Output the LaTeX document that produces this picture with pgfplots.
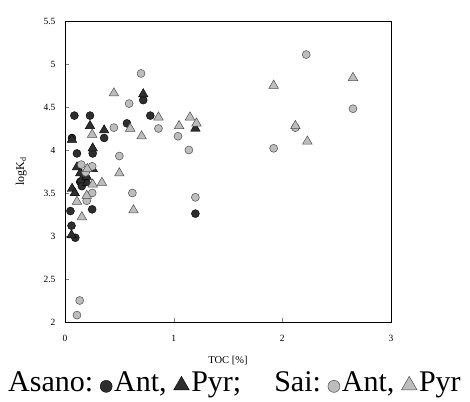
\documentclass[border=0pt]{standalone}
\usepackage{fontspec}
\setmainfont{Liberation Serif}
\usepackage{pgfplots}
\pgfplotsset{compat=1.18}
\definecolor{dk}{HTML}{2E2E2E}
\definecolor{lg}{HTML}{BDBDBD}
\definecolor{lgedge}{HTML}{505050}
\begin{document}
\begin{tikzpicture}
\begin{axis}[
  name=ax,
  scale only axis, width=326pt, height=301pt,
  xmin=0, xmax=3, ymin=2, ymax=5.5,
  xtick={0,1,2,3}, ytick={2,2.5,3,3.5,4,4.5,5,5.5},
  yticklabels={2,2.5,3,3.5,4,4.5,5,5.5},
  tick align=inside, xtick pos=bottom, ytick pos=left,
  major tick length=4pt,
  tick label style={font=\fontsize{9.5}{10}\selectfont},
  xticklabel style={yshift=-10pt},
  yticklabel style={xshift=-6pt},
  /pgf/number format/assume math mode=true,
  xlabel={TOC [\%]}, ylabel={logK\textsubscript{d}},
  xlabel style={font=\fontsize{10.5}{12}\selectfont, yshift=-7pt},
  ylabel style={font=\fontsize{12}{13}\selectfont, yshift=10pt},
  axis line style={line width=0.9pt},
  legend style={draw=none, fill=none, at={(-0.181,-0.240)}, anchor=south west,
    font=\fontsize{30}{32}\selectfont, legend columns=6,
    /tikz/every even column/.append style={column sep=6pt},
    /tikz/every odd column/.append style={column sep=1pt},
    inner sep=0pt, nodes={inner sep=1pt}},
  legend cell align=left,
]
\addlegendimage{empty legend}\addlegendentry{Asano:}
\addplot[only marks, mark=*, mark size=4pt, mark options={fill=dk, draw=black, line width=0.4pt},
  legend image post style={mark size=6pt, yshift=-4pt}] coordinates {
(0.086,4.40) (0.23,4.40) (0.064,4.14) (0.11,3.96) (0.255,3.96) (0.36,4.14)
(0.57,4.31) (0.72,4.58) (0.785,4.40) (1.20,3.26) (0.05,3.29) (0.06,3.12)
(0.095,2.98) (0.25,3.31) (0.14,3.63) (0.19,3.63) (0.155,3.58)
};
\addlegendentry{Ant,}
\addplot[only marks, mark=triangle*, mark size=5.5pt, mark options={fill=dk, draw=black, line width=0.4pt},
  legend image post style={mark size=9pt, yshift=-3pt}] coordinates {
(0.065,3.55) (0.09,3.50) (0.06,3.01) (0.11,3.80) (0.255,3.78) (0.23,4.28)
(0.255,4.02) (0.36,4.23) (0.72,4.65) (1.20,4.25) (0.064,4.12) (0.15,3.65)
(0.205,3.62) (0.14,3.73) (0.20,3.69)
};
\addlegendentry{Pyr;}
\addlegendimage{empty legend}\addlegendentry{\hspace{24pt}Sai:}
\addplot[only marks, mark=*, mark size=4pt, mark options={fill=lg, draw=lgedge, line width=0.5pt},
  legend image post style={mark size=6pt, yshift=-4pt}] coordinates {
(0.70,4.89) (0.59,4.54) (0.45,4.26) (0.86,4.25) (1.04,4.16) (1.14,4.00)
(0.50,3.93) (0.62,3.50) (1.20,3.45) (0.15,3.83) (0.25,3.81) (0.19,3.74)
(0.25,3.50) (0.20,3.41) (0.135,2.25) (0.11,2.08) (2.22,5.11) (2.65,4.48)
(1.92,4.02) (2.12,4.26)
};
\addlegendentry{Ant,}
\addplot[only marks, mark=triangle*, mark size=5.5pt, mark options={fill=lg, draw=lgedge, line width=0.5pt},
  legend image post style={mark size=9pt, yshift=-3pt}] coordinates {
(0.45,4.66) (0.60,4.25) (0.705,4.16) (0.86,4.38) (1.05,4.28) (1.15,4.38)
(1.21,4.31) (0.25,4.18) (0.50,3.73) (0.34,3.62) (0.255,3.60) (0.205,3.78)
(0.63,3.30) (0.155,3.22) (0.11,3.40) (0.20,3.47) (1.92,4.75) (2.65,4.84)
(2.12,4.28) (2.23,4.10)
};
\addlegendentry{Pyr}
\end{axis}
\pgfresetboundingbox
\useasboundingbox ([xshift=-65pt,yshift=-79pt]ax.south west) rectangle ([xshift=79pt,yshift=21pt]ax.north east);
\end{tikzpicture}
\end{document}
